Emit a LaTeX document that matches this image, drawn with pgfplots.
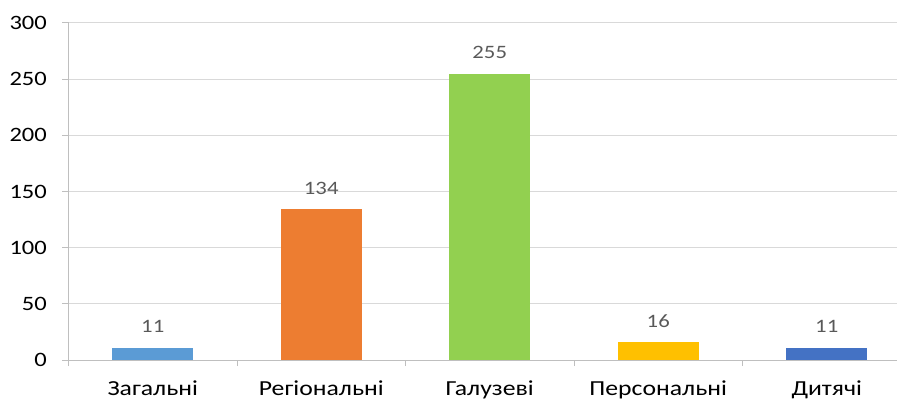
\documentclass[border=0pt]{standalone}
\usepackage{fontspec}
\setmainfont{Carlito}[FakeStretch=1.2]
\usepackage{pgfplots}
\pgfplotsset{compat=1.18}
\definecolor{c1}{HTML}{5B9BD5}
\definecolor{c2}{HTML}{ED7D31}
\definecolor{c3}{HTML}{92D050}
\definecolor{c4}{HTML}{FFC000}
\definecolor{c5}{HTML}{4472C4}
\definecolor{axgray}{HTML}{BFBFBF}
\definecolor{gridgray}{HTML}{D9D9D9}
\definecolor{lblgray}{HTML}{595959}
\begin{document}
\begin{tikzpicture}
\begin{axis}[
  at={(0,0)}, anchor=south west,
  scale only axis, width=828.5bp, height=337bp,
  xmin=-0.5, xmax=4.417, ymin=0, ymax=300,
  ytick={0,50,...,300},
  xtick={-0.5,0.5,1.5,2.5,3.5},
  xticklabels={},
  extra x ticks={0,1,2,3,4},
  extra x tick labels={Загальні,Регіональні,Галузеві,Персональні,Дитячі},
  extra x tick style={major tick length=0pt, grid=none},
  axis x line=bottom, axis y line=left,
  axis line style={-, draw=axgray, line width=1bp},
  ymajorgrids, grid style={draw=gridgray, line width=1bp},
  tick align=outside, major tick length=6bp,
  tick style={draw=axgray, line width=1bp},
  /pgf/number format/assume math mode=true,
  yticklabel style={font=\fontsize{20.5}{20.5}\selectfont, inner sep=0pt, anchor=east, xshift=-15.5bp},
  xticklabel style={font=\fontsize{21.5}{21.5}\selectfont, inner sep=0pt, anchor=base, yshift=-35bp},
  ybar, bar width=0.48, bar shift=0pt,
  nodes near coords,
  every node near coord/.append style={font=\fontsize{19}{19}\selectfont, text=lblgray, anchor=south, inner sep=0pt, yshift=14.5bp},
]
\addplot[fill=c1, draw=none] coordinates {(0,11)};
\addplot[fill=c2, draw=none] coordinates {(1,134)};
\addplot[fill=c3, draw=none] coordinates {(2,255)};
\addplot[fill=c4, draw=none] coordinates {(3,16)};
\addplot[fill=c5, draw=none] coordinates {(4,11)};
\end{axis}
\pgfresetboundingbox
\path[use as bounding box] (-68.5bp,-41bp) rectangle (828.5bp,360bp);
\end{tikzpicture}
\end{document}
